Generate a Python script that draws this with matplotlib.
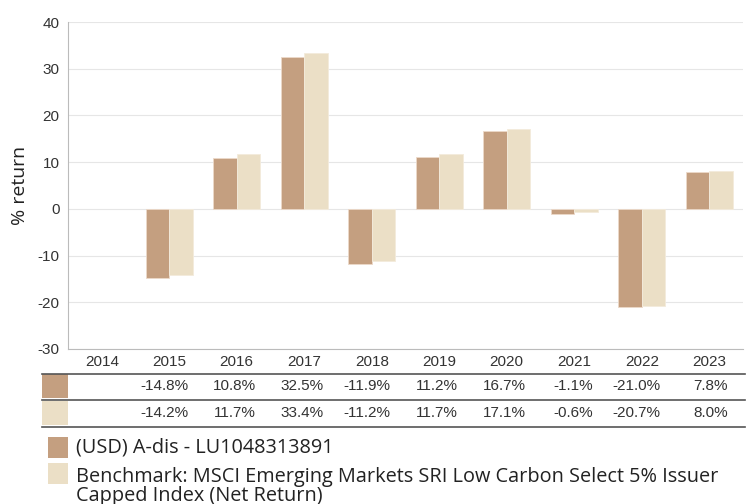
import numpy as np
import matplotlib.pyplot as plt
from matplotlib.patches import Rectangle
from matplotlib.lines import Line2D
import matplotlib.transforms as mtransforms

plt.rcParams['axes.unicode_minus'] = False
plt.rcParams['font.family'] = ['Liberation Sans', 'DejaVu Sans']

years = ['2014', '2015', '2016', '2017', '2018', '2019', '2020', '2021', '2022', '2023']
fund = [np.nan, -14.8, 10.8, 32.5, -11.9, 11.2, 16.7, -1.1, -21.0, 7.8]
bench = [np.nan, -14.2, 11.7, 33.4, -11.2, 11.7, 17.1, -0.6, -20.7, 8.0]
fund_name = '(USD) A-dis - LU1048313891'
bench_name = 'Benchmark: MSCI Emerging Markets SRI Low Carbon Select 5% Issuer\nCapped Index (Net Return)'

c_fund = '#c49f80'
c_bench = '#ebdfc6'

W, H = 747, 504
fig = plt.figure(figsize=(W / 100, H / 100), dpi=100)
ax = fig.add_axes([68 / W, 1 - 349 / H, (743 - 68) / W, (349 - 22) / H])

x = np.arange(len(years))
bw = 0.35
ax.bar(x - bw / 2, fund, bw, color=c_fund, edgecolor='#ecd9c9', linewidth=0.6, zorder=3)
ax.bar(x + bw / 2, bench, bw, color=c_bench, edgecolor='#f3ebdc', linewidth=0.6, zorder=3)

ax.set_xlim(-0.5, len(years) - 0.5)
ax.set_ylim(-30, 40)
ax.set_yticks(range(-30, 41, 10))
ax.set_xticks(x)
ax.set_xticklabels(years)
ax.grid(axis='y', color='#e6e6e6', linewidth=0.8, zorder=0)
for s in ['top', 'right']:
    ax.spines[s].set_visible(False)
ax.spines['left'].set_color('#bbbbbb')
ax.spines['bottom'].set_color('#bbbbbb')
ax.tick_params(length=0, labelsize=11, labelcolor='#333333', pad=4)
ax.tick_params(axis='y', pad=6)
ax.set_ylabel('% return', fontsize=14, color='#222222', labelpad=6, family='Open Sans')

# table under the chart
trans = mtransforms.blended_transform_factory(ax.transData, fig.transFigure)
row_y = [1 - 386 / H, 1 - 413 / H]
line_y = [1 - 374 / H, 1 - 400 / H, 1 - 427 / H]
for ly in line_y:
    fig.add_artist(Line2D([42 / W, 745 / W], [ly, ly], color='#555555', linewidth=1.2))
for ry, vals, col in zip(row_y, [fund, bench], [c_fund, c_bench]):
    fig.add_artist(Rectangle((42 / W, ry - 12 / H), 26 / W, 24 / H,
                             transform=fig.transFigure, color=col, linewidth=0))
    for xi, v in zip(x, vals):
        if np.isnan(v):
            continue
        fig.text(xi + 0.28, ry, f'{v:.1f}%', transform=trans, ha='right', va='center',
                 fontsize=11, color='#333333')

# legend
fig.add_artist(Rectangle((48 / W, 1 - 458 / H), 20 / W, 21 / H,
                         transform=fig.transFigure, color=c_fund, linewidth=0))
fig.add_artist(Rectangle((48 / W, 1 - 484 / H), 20 / W, 21 / H,
                         transform=fig.transFigure, color=c_bench, linewidth=0))
fig.text(76 / W, 1 - 448 / H, fund_name, fontsize=14.3, color='#222222', va='center',
         family='Open Sans')
fig.text(76 / W, 1 - 467 / H, bench_name, fontsize=14.3, color='#222222', va='top',
         family='Open Sans', linespacing=0.95)

fig.savefig('out.png', dpi=100)
